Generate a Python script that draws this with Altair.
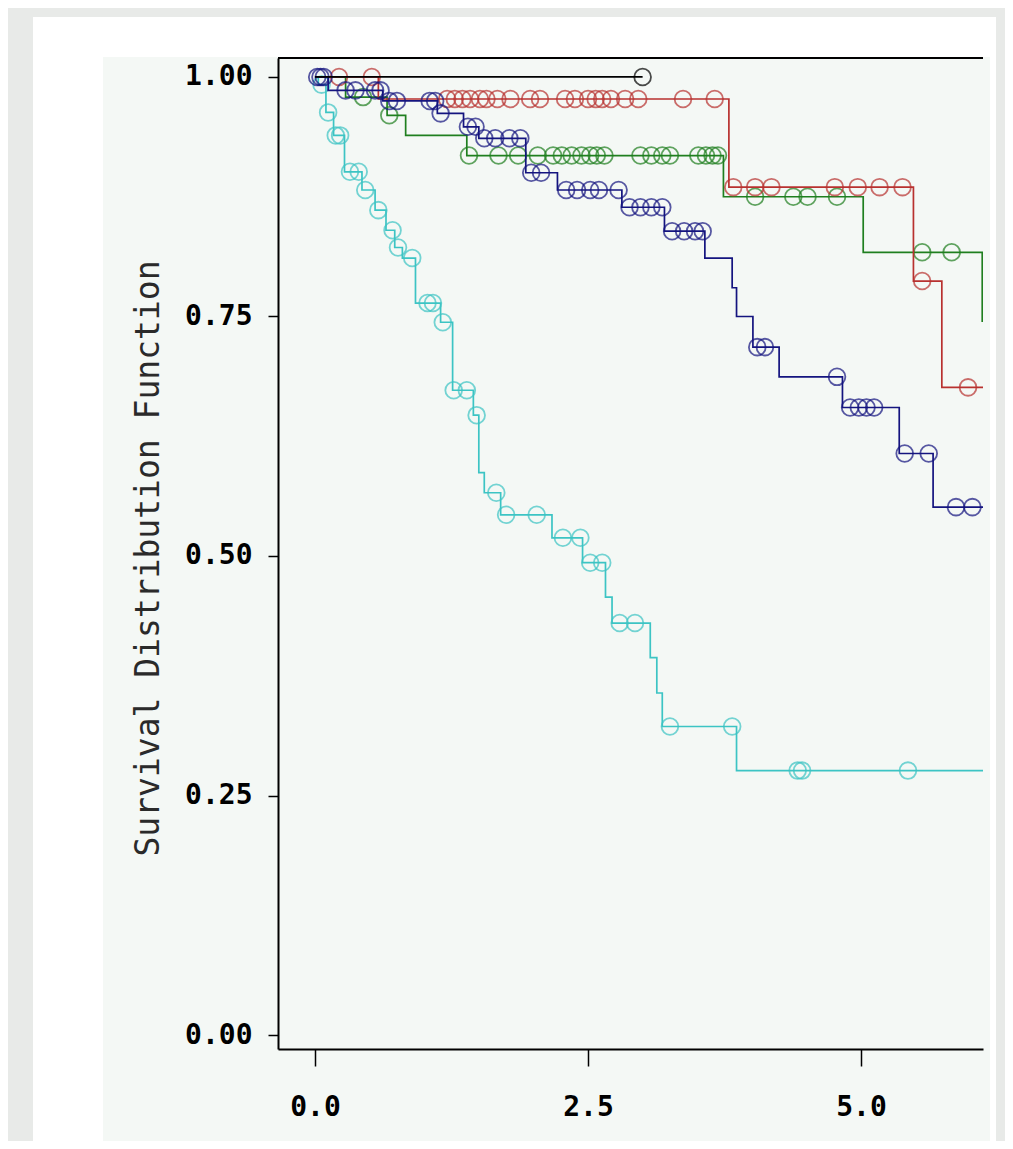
import altair as alt
import pandas as pd

# ---------------- data ----------------
group_names = ["cyan", "green", "red", "blue", "black"]
group_colors = ["#3cc4c4", "#1f7f1f", "#b8312f", "#14147f", "#000000"]

black_t = [0.0, 3.0]
black_s = [1.0, 1.0]
black_c = [3.0]

red_t = [0.0, 0.58, 3.79, 5.48, 5.74, 6.30]
red_s = [1.0, 0.977, 0.885, 0.787, 0.676, 0.676]
red_c = [0.22, 0.52, 1.21, 1.28, 1.35, 1.42, 1.51, 1.57, 1.67, 1.79, 1.97, 2.06,
         2.29, 2.38, 2.50, 2.57, 2.63, 2.71, 2.84, 2.96, 3.37, 3.66,
         3.83, 4.03, 4.18, 4.76, 4.97, 5.17, 5.38, 5.56, 5.98]

green_t = [0.0, 0.28, 0.66, 0.83, 1.39, 3.74, 5.02, 6.11, 6.30]
green_s = [1.0, 0.979, 0.960, 0.939, 0.918, 0.875, 0.817, 0.745, 0.745]
green_c = [0.44, 0.68, 1.41, 1.68, 1.86, 2.04, 2.18, 2.26, 2.35, 2.44, 2.52, 2.58,
           2.65, 2.98, 3.08, 3.18, 3.25, 3.51, 3.58, 3.64, 3.69, 4.03, 4.38,
           4.51, 4.78, 5.56, 5.83]

blue_t = [0.0, 0.12, 0.62, 1.12, 1.36, 1.50, 1.93, 2.22, 2.81, 3.20, 3.57, 3.82,
          3.86, 4.01, 4.25, 4.83, 5.35, 5.66, 6.30]
blue_s = [1.0, 0.986, 0.975, 0.962, 0.948, 0.936, 0.900, 0.882, 0.864, 0.839,
          0.811, 0.780, 0.750, 0.718, 0.687, 0.655, 0.607, 0.551, 0.551]
blue_c = [0.02, 0.05, 0.08, 0.28, 0.37, 0.55, 0.60, 0.68, 0.75, 1.05, 1.10, 1.15,
          1.40, 1.47, 1.55, 1.65, 1.78, 1.88, 1.98, 2.07, 2.30, 2.40, 2.52, 2.60,
          2.78, 2.88, 2.98, 3.08, 3.18, 3.27, 3.38, 3.48, 3.55, 4.05, 4.12, 4.78,
          4.90, 4.98, 5.05, 5.12, 5.40, 5.62, 5.87, 6.02]

cyan_t = [0.0, 0.03, 0.10, 0.17, 0.27, 0.43, 0.55, 0.65, 0.73, 0.80, 0.92, 1.15,
          1.26, 1.45, 1.50, 1.55, 1.70, 2.17, 2.45, 2.66, 2.72, 3.07, 3.13, 3.18,
          3.86, 6.30]
cyan_s = [1.0, 0.992, 0.963, 0.939, 0.901, 0.882, 0.861, 0.840, 0.822, 0.811,
          0.764, 0.744, 0.673, 0.647, 0.587, 0.566, 0.543, 0.519, 0.493, 0.457,
          0.430, 0.394, 0.357, 0.322, 0.276, 0.276]
cyan_c = [0.06, 0.12, 0.19, 0.23, 0.32, 0.40, 0.46, 0.58, 0.71, 0.76, 0.89, 1.03,
          1.08, 1.17, 1.27, 1.39, 1.48, 1.66, 1.75, 2.03, 2.27, 2.43, 2.52, 2.63,
          2.79, 2.93, 3.25, 3.82, 4.42, 4.46, 5.43]

x_ticks = [0.0, 2.5, 5.0]
y_ticks = [0.0, 0.25, 0.50, 0.75, 1.00]
y_title = "Survival Distribution Function"

series = {
    "cyan": (cyan_t, cyan_s, cyan_c),
    "green": (green_t, green_s, green_c),
    "red": (red_t, red_s, red_c),
    "blue": (blue_t, blue_s, blue_c),
    "black": (black_t, black_s, black_c),
}

# ---------------- chart ----------------
W, H = 705, 991
MONO = "DejaVu Sans Mono"

x_scale = alt.Scale(domain=[-0.339, 6.117], nice=False, zero=False)
y_scale = alt.Scale(domain=[-0.0146, 1.0198], nice=False, zero=False)
color_scale = alt.Scale(domain=group_names, range=group_colors)

x_axis = alt.Axis(values=x_ticks, format=".1f", title=None, grid=False,
                  tickSize=17, tickWidth=1.5, tickColor="black",
                  domainColor="black", domainWidth=2,
                  labelFont=MONO, labelFontWeight="bold", labelFontSize=28,
                  labelColor="black", labelPadding=27, labelFlush=False,
                  labelOverlap=False, zindex=1)
y_axis = alt.Axis(values=y_ticks, format=".2f", title=y_title, grid=False,
                  tickSize=10, tickWidth=1.5, tickColor="black",
                  domainColor="black", domainWidth=2,
                  labelFont=MONO, labelFontWeight="bold", labelFontSize=28,
                  labelColor="black", labelPadding=16, labelFlush=False,
                  labelOverlap=False,
                  titleFont=MONO, titleFontWeight="normal", titleFontSize=33,
                  titleColor="#2a2a2a", titleX=-130, titleY=500, titleAngle=270,
                  titleAlign="center", titleBaseline="middle", zindex=1)

one = pd.DataFrame({"k": [0]})
white_box = alt.Chart(one).mark_rect(color="white").encode(
    x=alt.value(-245), x2=alt.value(718), y=alt.value(-41), y2=alt.value(1100))
tint_box = alt.Chart(one).mark_rect(color="#f4f8f5").encode(
    x=alt.value(-175), x2=alt.value(712), y=alt.value(-1), y2=alt.value(1100))
top_border = alt.Chart(one).mark_rule(color="black", strokeWidth=2).encode(
    x=alt.value(0), x2=alt.value(W), y=alt.value(0))

layers = [white_box, tint_box]
for name in group_names:
    ts, ss, cs = series[name]
    steps = pd.DataFrame({"t": ts, "s": ss, "g": name})
    ys = []
    for c in cs:
        lvl = ss[0]
        for t, s in zip(ts, ss):
            if t <= c:
                lvl = s
        ys.append(lvl)
    cens = pd.DataFrame({"t": cs, "s": ys, "g": name})
    enc = dict(
        x=alt.X("t:Q", scale=x_scale, axis=x_axis),
        y=alt.Y("s:Q", scale=y_scale, axis=y_axis),
        color=alt.Color("g:N", scale=color_scale, legend=None),
    )
    line = alt.Chart(steps).mark_line(interpolate="step-after", strokeWidth=1.7,
                                      clip=True).encode(**enc)
    pts = alt.Chart(cens).mark_point(shape="circle", filled=False, size=280,
                                     strokeWidth=1.8, clip=True).encode(**enc)
    layers += [line, pts]

layers.append(top_border)

chart = alt.layer(*layers).properties(
    width=W, height=H,
    autosize=alt.AutoSizeParams(type="none"),
    padding={"left": 270, "top": 50, "right": 22, "bottom": 92},
    background="#e8eae8",
).configure_view(stroke=None, fill=None)

chart.save("out.html", embed_options={"renderer": "svg", "actions": False})
